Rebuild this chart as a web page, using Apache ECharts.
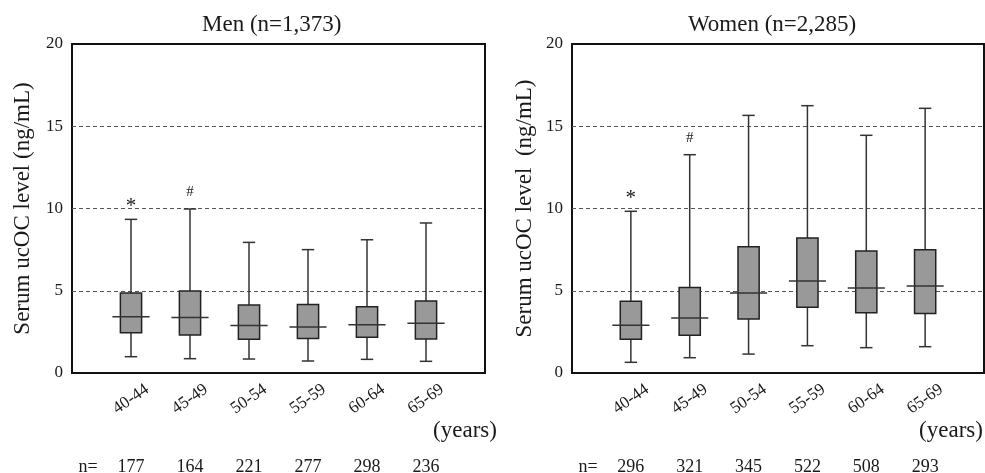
<!DOCTYPE html>
<html>
<head>
<meta charset="utf-8">
<script src="https://cdn.jsdelivr.net/npm/echarts@6/dist/echarts.min.js"></script>
<style>
html, body { margin: 0; padding: 0; background: #fff; }
#chart { width: 985px; height: 473px; }
</style>
</head>
<body>
<div id="chart"></div>
<script>
// age groups, with an empty slot at each end so the boxes sit off the frame
var ageGroups = ['', '40-44', '45-49', '50-54', '55-59', '60-64', '65-69', ''];
var yTicks = [0, 5, 10, 15, 20];

// men: whisker ends, quartiles, median (ng/mL)
var menMin = [0.99, 0.87, 0.85, 0.73, 0.83, 0.71];
var menQ1 = [2.45, 2.31, 2.05, 2.10, 2.17, 2.07];
var menMedian = [3.42, 3.38, 2.88, 2.80, 2.94, 3.02];
var menQ3 = [4.86, 4.98, 4.13, 4.17, 4.03, 4.38];
var menMax = [9.34, 9.97, 7.94, 7.50, 8.10, 9.12];
var menN = [177, 164, 221, 277, 298, 236];
var menMarks = ['*', '#', '', '', '', ''];

// women
var womenMin = [0.65, 0.93, 1.15, 1.66, 1.54, 1.60];
var womenQ1 = [2.05, 2.29, 3.28, 3.99, 3.67, 3.61];
var womenMedian = [2.90, 3.34, 4.86, 5.59, 5.17, 5.29];
var womenQ3 = [4.36, 5.19, 7.68, 8.20, 7.42, 7.50];
var womenMax = [9.83, 13.27, 15.66, 16.25, 14.45, 16.09];
var womenN = [296, 321, 345, 522, 508, 293];
var womenMarks = ['*', '#', '', '', '', ''];

var FONT = 'Liberation Serif';
var INK = '#1a1a1a';

function boxData(mn, q1, med, q3, mx) {
    var out = [];
    for (var i = 0; i < med.length; i++) {
        out.push([i + 1, mn[i], q1[i], med[i], q3[i], mx[i]]);
    }
    return out;
}

function nLabels(n) {
    return [''].concat(n.map(String)).concat(['']);
}

// draws whiskers, caps, box, a wide median bar and the significance mark
function boxRender(marks) {
    return function (params, api) {
        var x = api.value(0);
        var band = api.size([1, 0])[0];
        var pMin = api.coord([x, api.value(1)]);
        var pQ1 = api.coord([x, api.value(2)]);
        var pMed = api.coord([x, api.value(3)]);
        var pQ3 = api.coord([x, api.value(4)]);
        var pMax = api.coord([x, api.value(5)]);
        var cx = pMed[0];
        var bw = band * 0.36, mw = band * 0.63, cw = band * 0.21;
        var wl = { stroke: '#333', lineWidth: 1.5 };
        var kids = [
            { type: 'line', shape: { x1: cx, y1: pMax[1], x2: cx, y2: pQ3[1] }, style: wl },
            { type: 'line', shape: { x1: cx, y1: pQ1[1], x2: cx, y2: pMin[1] }, style: wl },
            { type: 'line', shape: { x1: cx - cw / 2, y1: pMax[1], x2: cx + cw / 2, y2: pMax[1] }, style: wl },
            { type: 'line', shape: { x1: cx - cw / 2, y1: pMin[1], x2: cx + cw / 2, y2: pMin[1] }, style: wl },
            { type: 'rect', shape: { x: cx - bw / 2, y: pQ3[1], width: bw, height: pQ1[1] - pQ3[1] },
              style: { fill: '#999', stroke: '#222', lineWidth: 1.5 } },
            { type: 'line', shape: { x1: cx - mw / 2, y1: pMed[1], x2: cx + mw / 2, y2: pMed[1] },
              style: { stroke: '#333', lineWidth: 1.5 } }
        ];
        var m = marks[params.dataIndex];
        if (m) {
            kids.push({
                type: 'text', x: cx, y: pMax[1] - (m === '*' ? 13 : 17),
                style: { text: m, fill: INK, fontFamily: FONT, fontSize: m === '*' ? 21 : 15,
                         align: 'center', verticalAlign: 'middle' }
            });
        }
        return { type: 'group', children: kids };
    };
}

function catAxis(gi, yearsGap) {
    return {
        type: 'category', gridIndex: gi, data: ageGroups, boundaryGap: false,
        axisLine: { show: false }, axisTick: { show: false }, splitLine: { show: false },
        axisLabel: { interval: 0, rotate: 35, align: 'center', verticalAlign: 'middle', margin: 26,
                     fontSize: 17, fontFamily: FONT, color: INK },
        name: '(years)', nameLocation: 'end', nameGap: yearsGap, nameMoveOverlap: false,
        nameTextStyle: { align: 'center', verticalAlign: 'top', padding: [46, 0, 0, 0],
                         fontSize: 23, fontFamily: FONT, color: INK }
    };
}

function nAxis(gi, n) {
    return {
        type: 'category', gridIndex: gi, data: nLabels(n), boundaryGap: false,
        position: 'bottom', offset: 0,
        axisLine: { show: false }, axisTick: { show: false }, splitLine: { show: false },
        axisLabel: { interval: 0, margin: 85, fontSize: 18, fontFamily: FONT, color: INK },
        name: 'n=', nameLocation: 'start', nameGap: -16, nameMoveOverlap: false,
        nameTextStyle: { align: 'center', verticalAlign: 'top', padding: [85, 0, 0, 0],
                         fontSize: 18, fontFamily: FONT, color: INK }
    };
}

function valAxis(gi, label, gap) {
    return {
        type: 'value', gridIndex: gi,
        min: yTicks[0], max: yTicks[yTicks.length - 1], interval: yTicks[1] - yTicks[0],
        axisLine: { show: false }, axisTick: { show: false },
        axisLabel: { margin: 9, fontSize: 17, fontFamily: FONT, color: INK },
        splitLine: { show: true, showMinLine: false, showMaxLine: false,
                     lineStyle: { type: [4, 3], color: '#555', width: 1 } },
        name: label, nameLocation: 'middle', nameGap: gap,
        nameTextStyle: { fontSize: 23, fontFamily: FONT, color: INK }
    };
}

var chart = echarts.init(document.getElementById('chart'));
chart.setOption({
    backgroundColor: '#fff',
    animation: false,
    title: [
        { text: 'Men (n=1,373)', left: 202, top: 13, padding: 0,
          textStyle: { fontSize: 23, fontWeight: 'normal', fontFamily: FONT, color: INK } },
        { text: 'Women (n=2,285)', left: 688, top: 13, padding: 0,
          textStyle: { fontSize: 23, fontWeight: 'normal', fontFamily: FONT, color: INK } }
    ],
    grid: [
        { left: 72, top: 44, width: 413, height: 329, show: true, borderColor: '#111', borderWidth: 2,
          outerBoundsMode: 'none' },
        { left: 572, top: 44, width: 412, height: 329, show: true, borderColor: '#111', borderWidth: 2,
          outerBoundsMode: 'none' }
    ],
    xAxis: [catAxis(0, -20), nAxis(0, menN), catAxis(1, -33), nAxis(1, womenN)],
    yAxis: [
        valAxis(0, 'Serum ucOC level (ng/mL)', 38),
        valAxis(1, 'Serum ucOC level  (ng/mL)', 36)
    ],
    series: [
        { type: 'custom', xAxisIndex: 0, yAxisIndex: 0, encode: { x: 0, y: [1, 2, 3, 4, 5] },
          renderItem: boxRender(menMarks), data: boxData(menMin, menQ1, menMedian, menQ3, menMax) },
        { type: 'custom', xAxisIndex: 2, yAxisIndex: 1, encode: { x: 0, y: [1, 2, 3, 4, 5] },
          renderItem: boxRender(womenMarks), data: boxData(womenMin, womenQ1, womenMedian, womenQ3, womenMax) }
    ]
});
</script>
</body>
</html>
